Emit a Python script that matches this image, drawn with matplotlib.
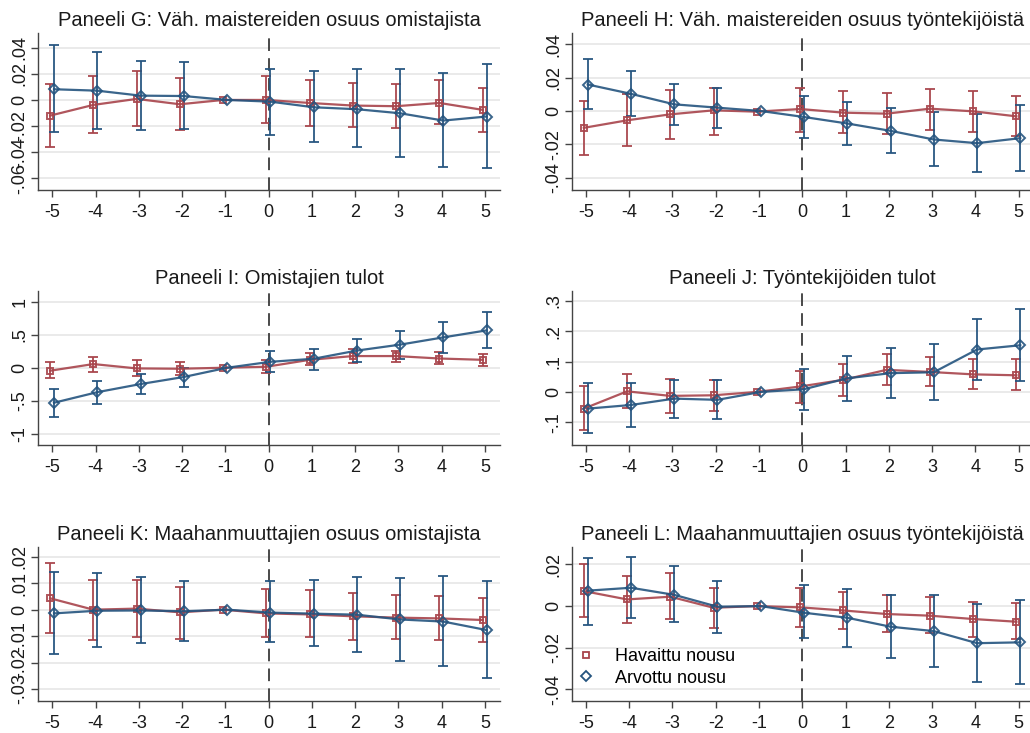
import numpy as np
import matplotlib
matplotlib.use("Agg")
import matplotlib.pyplot as plt
from matplotlib.lines import Line2D

plt.rcParams['font.family'] = ['Liberation Sans', 'DejaVu Sans']

years = [-5, -4, -3, -2, -1, 0, 1, 2, 3, 4, 5]
xtick_labels = ["-5", "-4", "-3", "-2", "-1", "0", "1", "2", "3", "4", "5"]

# Panel G
G_title = "Paneeli G: Väh. maistereiden osuus omistajista"
G_obs = [-0.012, -0.0038, 0.0008, -0.0033, 0.0, 0.0, -0.0023, -0.0043, -0.0048, -0.0023, -0.0076]
G_obs_lo = [-0.0357, -0.0257, -0.0200, -0.0227, 0.0, -0.0176, -0.0196, -0.0211, -0.0214, -0.0186, -0.0247]
G_obs_hi = [0.0120, 0.0186, 0.0224, 0.0166, 0.0, 0.0181, 0.0153, 0.0130, 0.0120, 0.0150, 0.0089]
G_imp = [0.0082, 0.0071, 0.0033, 0.0030, 0.0, -0.0013, -0.0056, -0.0071, -0.0102, -0.0158, -0.0127]
G_imp_lo = [-0.0247, -0.0219, -0.0232, -0.0222, 0.0, -0.0268, -0.0326, -0.0364, -0.0436, -0.0517, -0.0522]
G_imp_hi = [0.0420, 0.0367, 0.0300, 0.0288, 0.0, 0.0240, 0.0219, 0.0234, 0.0234, 0.0209, 0.0273]
G_yticks = [-0.06, -0.04, -0.02, 0, 0.02, 0.04]
G_ylabels = ["-.06", "-.04", "-.02", "0", ".02", ".04"]
G_ylim = (-0.069, 0.0513)

# Panel H
H_title = "Paneeli H: Väh. maistereiden osuus työntekijöistä"
H_obs = [-0.0101, -0.0056, -0.0020, 0.0004, -0.0004, 0.0012, -0.0010, -0.0016, 0.0014, -0.0002, -0.0032]
H_obs_lo = [-0.0264, -0.0212, -0.0169, -0.0141, -0.0004, -0.0125, -0.0133, -0.0139, -0.0111, -0.0127, -0.0151]
H_obs_hi = [0.0062, 0.0105, 0.0129, 0.0141, -0.0004, 0.0137, 0.0119, 0.0107, 0.0135, 0.0119, 0.0091]
H_imp = [0.0159, 0.0103, 0.0040, 0.0020, 0.0, -0.0036, -0.0075, -0.0119, -0.0171, -0.0193, -0.0163]
H_imp_lo = [0.0014, -0.0032, -0.0085, -0.0099, 0.0, -0.0161, -0.0204, -0.0252, -0.0329, -0.0367, -0.0359]
H_imp_hi = [0.0310, 0.0242, 0.0161, 0.0139, 0.0, 0.0091, 0.0054, 0.0018, -0.0008, -0.0016, 0.0034]
H_yticks = [-0.04, -0.02, 0, 0.02, 0.04]
H_ylabels = ["-.04", "-.02", "0", ".02", ".04"]
H_ylim = (-0.0474, 0.0468)

# Panel I
I_title = "Paneeli I: Omistajien tulot"
I_obs = [-0.045, 0.056, -0.010, -0.015, 0.0, 0.015, 0.120, 0.177, 0.177, 0.140, 0.120]
I_obs_lo = [-0.160, -0.060, -0.120, -0.110, 0.0, -0.076, 0.040, 0.076, 0.090, 0.050, 0.025]
I_obs_hi = [0.086, 0.167, 0.110, 0.086, 0.0, 0.116, 0.217, 0.290, 0.260, 0.237, 0.210]
I_imp = [-0.530, -0.370, -0.247, -0.140, 0.0, 0.090, 0.136, 0.260, 0.350, 0.460, 0.566]
I_imp_lo = [-0.740, -0.550, -0.400, -0.290, 0.0, -0.066, -0.035, 0.080, 0.136, 0.230, 0.300]
I_imp_hi = [-0.320, -0.200, -0.096, -0.010, 0.0, 0.247, 0.288, 0.434, 0.556, 0.700, 0.843]
I_yticks = [-1, -0.5, 0, 0.5, 1]
I_ylabels = ["-1", "-.5", "0", ".5", "1"]
I_ylim = (-1.17, 1.167)

# Panel J
J_title = "Paneeli J: Työntekijöiden tulot"
J_obs = [-0.055, 0.002, -0.013, -0.011, 0.0, 0.018, 0.040, 0.073, 0.066, 0.058, 0.055]
J_obs_lo = [-0.125, -0.052, -0.069, -0.062, 0.0, -0.035, -0.012, 0.024, 0.018, 0.010, 0.005]
J_obs_hi = [0.020, 0.059, 0.043, 0.038, 0.0, 0.070, 0.091, 0.124, 0.116, 0.108, 0.108]
J_imp = [-0.055, -0.043, -0.022, -0.026, 0.0, 0.009, 0.045, 0.062, 0.065, 0.140, 0.154]
J_imp_lo = [-0.137, -0.116, -0.087, -0.090, 0.0, -0.060, -0.030, -0.020, -0.026, 0.040, 0.036]
J_imp_hi = [0.031, 0.031, 0.041, 0.040, 0.0, 0.077, 0.120, 0.144, 0.158, 0.242, 0.273]
J_yticks = [-0.1, 0, 0.1, 0.2, 0.3]
J_ylabels = ["-.1", "0", ".1", ".2", ".3"]
J_ylim = (-0.175, 0.334)

# Panel K
K_title = "Paneeli K: Maahanmuuttajien osuus omistajista"
K_obs = [0.0043, 0.0, 0.0004, -0.0010, 0.0, -0.0014, -0.0018, -0.0025, -0.0030, -0.0033, -0.0039]
K_obs_lo = [-0.0087, -0.0115, -0.0103, -0.0112, 0.0, -0.0102, -0.0103, -0.0115, -0.0112, -0.0115, -0.0123]
K_obs_hi = [0.0178, 0.0113, 0.0111, 0.0086, 0.0, 0.0078, 0.0073, 0.0062, 0.0057, 0.0050, 0.0045]
K_imp = [-0.0014, -0.0004, -0.0003, -0.0006, 0.0, -0.0011, -0.0015, -0.0019, -0.0037, -0.0045, -0.0077]
K_imp_lo = [-0.0168, -0.0141, -0.0126, -0.0117, 0.0, -0.0122, -0.0136, -0.0159, -0.0193, -0.0212, -0.0259]
K_imp_hi = [0.0144, 0.0137, 0.0122, 0.0110, 0.0, 0.0107, 0.0111, 0.0122, 0.0118, 0.0126, 0.0108]
K_yticks = [-0.03, -0.02, -0.01, 0, 0.01, 0.02]
K_ylabels = ["-.03", "-.02", "-.01", "0", ".01", ".02"]
K_ylim = (-0.0344, 0.0238)

# Panel L
L_title = "Paneeli L: Maahanmuuttajien osuus työntekijöistä"
L_obs = [0.0072, 0.0032, 0.0045, -0.0008, 0.0, -0.0006, -0.0021, -0.0038, -0.0046, -0.0062, -0.0075]
L_obs_lo = [-0.0054, -0.0083, -0.0064, -0.0106, 0.0, -0.0099, -0.0112, -0.0123, -0.0131, -0.0146, -0.0158]
L_obs_hi = [0.0203, 0.0146, 0.0157, 0.0088, 0.0, 0.0086, 0.0069, 0.0051, 0.0042, 0.0021, 0.0013]
L_imp = [0.0074, 0.0088, 0.0054, -0.0003, 0.0, -0.0032, -0.0056, -0.0099, -0.0120, -0.0178, -0.0174]
L_imp_lo = [-0.0091, -0.0058, -0.0077, -0.0128, 0.0, -0.0155, -0.0194, -0.0248, -0.0291, -0.0365, -0.0376]
L_imp_hi = [0.0232, 0.0237, 0.0194, 0.0122, 0.0, 0.0099, 0.0082, 0.0053, 0.0051, 0.0008, 0.0027]
L_yticks = [-0.04, -0.02, 0, 0.02]
L_ylabels = ["-.04", "-.02", "0", ".02"]
L_ylim = (-0.0454, 0.0285)

legend_labels = ["Havaittu nousu", "Arvottu nousu"]

RED = "#A8444B"
BLUE = "#24547F"

W, H = 1030, 733
fig = plt.figure(figsize=(W / 100, H / 100), dpi=100)


def px_axes(left, top, right, bottom):
    return fig.add_axes([left / W, 1 - bottom / H, (right - left) / W, (bottom - top) / H])


def draw_series(ax, y, lo, hi, off, color, marker, msize):
    x = np.array(years, dtype=float) + off
    y = np.array(y)
    lo = np.array(lo)
    hi = np.array(hi)
    m = hi > lo
    ax.errorbar(x[m], y[m], yerr=[y[m] - lo[m], hi[m] - y[m]], fmt="none",
                ecolor=color, elinewidth=1.4, capsize=3.6, capthick=1.4,
                alpha=0.9, zorder=3)
    ax.plot(x, y, color=color, lw=1.6, marker=marker, markersize=msize,
            markerfacecolor="none", markeredgecolor=color, markeredgewidth=1.4,
            alpha=0.9, zorder=4)


def panel(ax, title, obs, obs_lo, obs_hi, imp, imp_lo, imp_hi, yticks, ylabels, ylim):
    ax.set_xlim(-5.33, 5.35)
    ax.set_ylim(*ylim)
    ax.set_yticks(yticks)
    ax.set_yticklabels(ylabels, rotation=90, va="center")
    ax.set_xticks(years)
    ax.set_xticklabels(xtick_labels)
    for t in yticks:
        ax.axhline(t, color="#EAEAEA", lw=1.4, zorder=0)
    ax.axvline(0, color="#3A3A3A", lw=1.3, ls=(0, (7, 4)), zorder=2)
    draw_series(ax, obs, obs_lo, obs_hi, -0.05, RED, "s", 4.8)
    draw_series(ax, imp, imp_lo, imp_hi, 0.04, BLUE, "D", 5.2)
    for s in ("top", "right"):
        ax.spines[s].set_visible(False)
    for s in ("left", "bottom"):
        ax.spines[s].set_color("#444444")
        ax.spines[s].set_linewidth(1.0)
    ax.tick_params(axis="both", colors="#444444", length=5, width=1.0,
                   labelsize=13, labelcolor="#1a1a1a")
    ax.tick_params(axis="x", pad=5)
    ax.tick_params(axis="y", pad=2)
    ax.set_title(title, fontsize=14.5, color="#1a1a1a", pad=5)


rows = [(33, 190), (290.7, 445), (546.7, 700.7)]
cols = [(38, 500), (571.7, 1033.7)]

panels = [
    (G_title, G_obs, G_obs_lo, G_obs_hi, G_imp, G_imp_lo, G_imp_hi, G_yticks, G_ylabels, G_ylim),
    (H_title, H_obs, H_obs_lo, H_obs_hi, H_imp, H_imp_lo, H_imp_hi, H_yticks, H_ylabels, H_ylim),
    (I_title, I_obs, I_obs_lo, I_obs_hi, I_imp, I_imp_lo, I_imp_hi, I_yticks, I_ylabels, I_ylim),
    (J_title, J_obs, J_obs_lo, J_obs_hi, J_imp, J_imp_lo, J_imp_hi, J_yticks, J_ylabels, J_ylim),
    (K_title, K_obs, K_obs_lo, K_obs_hi, K_imp, K_imp_lo, K_imp_hi, K_yticks, K_ylabels, K_ylim),
    (L_title, L_obs, L_obs_lo, L_obs_hi, L_imp, L_imp_lo, L_imp_hi, L_yticks, L_ylabels, L_ylim),
]

axes = []
for i, p in enumerate(panels):
    top, bottom = rows[i // 2]
    left, right = cols[i % 2]
    ax = px_axes(left, top, right, bottom)
    panel(ax, *p)
    axes.append(ax)

handles = [
    Line2D([], [], ls="none", marker="s", markersize=5, markerfacecolor="none",
           markeredgecolor=RED, markeredgewidth=1.3),
    Line2D([], [], ls="none", marker="D", markersize=5, markerfacecolor="none",
           markeredgecolor=BLUE, markeredgewidth=1.3),
]
axes[5].legend(handles, legend_labels, loc="lower left", bbox_to_anchor=(-0.005, 0.045),
               frameon=False, fontsize=13, handlelength=1.0, handletextpad=1.1,
               labelspacing=0.25, borderaxespad=0.0)

fig.savefig("out.png", dpi=100, facecolor="white")
